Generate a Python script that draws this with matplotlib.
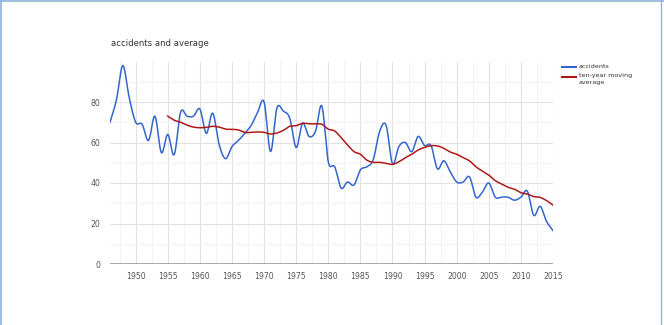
import numpy as np
import matplotlib
matplotlib.use("Agg")
import matplotlib.pyplot as plt
from matplotlib.lines import Line2D

years = list(range(1946, 2016))
accidents = [70, 81, 98, 82, 70, 69, 61, 73, 55, 64,
             54, 75, 73, 73, 76.5, 64.5, 74.5, 59, 52, 58,
             61, 64.5, 68.5, 75, 80, 55.5, 77, 75.5, 72, 57.5,
             69.5, 63, 65.5, 78, 50.5, 48, 37.5, 40.5, 39, 46.5,
             48, 51.5, 65.5, 68.5, 49.5, 58, 60, 55.5, 63, 58.5,
             58.5, 47, 51, 45.5, 40.5, 40.5, 43, 33, 35.5, 40,
             33, 33, 33, 31.5, 33, 36, 24, 28.5, 21, 16.5]
avg_years = list(range(1955, 2016))
moving_avg = [73, 71, 70, 68.6, 67.6, 67.3, 67.5, 68, 67.6, 66.6,
              66.5, 66.2, 65, 65, 65.2, 65, 64.2, 64.7, 66, 68,
              68.3, 69.5, 69.2, 69.2, 69, 66.6, 65.7, 62.4, 58.8, 55.5,
              54.2, 51.3, 50.2, 50.2, 49.7, 49.2, 50.5, 52.5, 54.2, 56.3,
              57.6, 58.4, 58.3, 57.1, 55.3, 54.2, 52.5, 50.9, 48, 45.9,
              43.9, 41.2, 39.5, 37.9, 36.9, 35.2, 34.6, 33.3, 32.9, 31.3, 29.1]

title = "accidents and average"
series_names = ["accidents", "ten-year moving\naverage"]
x_ticks = list(range(1950, 2016, 5))
y_ticks = [0, 20, 40, 60, 80]


def smooth(xs, ys, n=12):
    xs = np.asarray(xs, float)
    ys = np.asarray(ys, float)
    px = np.concatenate([[2 * xs[0] - xs[1]], xs, [2 * xs[-1] - xs[-2]]])
    py = np.concatenate([[2 * ys[0] - ys[1]], ys, [2 * ys[-1] - ys[-2]]])
    outx, outy = [], []
    t = np.linspace(0, 1, n, endpoint=False)
    for i in range(1, len(px) - 2):
        f = lambda a: 0.5 * ((2 * a[i]) + (-a[i - 1] + a[i + 1]) * t +
                             (2 * a[i - 1] - 5 * a[i] + 4 * a[i + 1] - a[i + 2]) * t ** 2 +
                             (-a[i - 1] + 3 * a[i] - 3 * a[i + 1] + a[i + 2]) * t ** 3)
        outx.extend(f(px))
        outy.extend(f(py))
    outx.append(xs[-1])
    outy.append(ys[-1])
    return np.array(outx), np.array(outy)


fig = plt.figure(figsize=(6.64, 3.25), dpi=100)
W, H = 664, 325
left, right, top, bottom = 110, 553, 61.5, 264
ax = fig.add_axes([left / W, 1 - bottom / H, (right - left) / W, (bottom - top) / H])

blue = "#3366cc"
red = "#b01818"

sx, sy = smooth(years, accidents)
ax.plot(sx, sy, color=blue, lw=1.1, zorder=3)
mx, my = smooth(avg_years, moving_avg)
ax.plot(mx, my, color=red, lw=1.1, zorder=3)

ax.set_xlim(1946, 2015)
ax.set_ylim(0, 100)
ax.set_xticks(x_ticks)
ax.set_xticks(np.arange(1947.5, 2015, 2.5), minor=True)
ax.set_yticks(y_ticks)
ax.set_yticks(np.arange(10, 100, 10), minor=True)
ax.grid(which="major", color="#e2e2e2", lw=0.8)
ax.grid(which="minor", color="#f3f3f3", lw=0.8)
ax.set_axisbelow(True)
for s in ax.spines.values():
    s.set_visible(False)
ax.axhline(0, color="#9a9a9a", lw=1.2, zorder=2)
ax.tick_params(which="both", length=0, labelsize=5.6, labelcolor="#555555")
ax.tick_params(axis="x", pad=6)
ax.tick_params(axis="y", pad=7)

fig.text(111 / W, 1 - 44 / H, title, fontsize=6.1, color="#333333", va="center", ha="left")

# legend
fig.add_artist(Line2D([561.5 / W, 576 / W], [1 - 66.5 / H] * 2, color=blue, lw=1.5))
fig.text(579 / W, 1 - 66.5 / H, series_names[0], fontsize=4.6, color="#333333", va="center")
fig.add_artist(Line2D([561.5 / W, 576 / W], [1 - 77.3 / H] * 2, color=red, lw=1.5))
fig.text(579 / W, 1 - 72.5 / H, series_names[1], fontsize=4.6, color="#333333", va="top",
         linespacing=1.55)

# border frame
fig.add_artist(Line2D([0.5 / W, 0.5 / W], [0, 1], color="#8fb3d9", lw=1.2))
fig.add_artist(Line2D([0, 1], [1 - 0.5 / H] * 2, color="#8fb3d9", lw=1.2))
fig.add_artist(Line2D([660.5 / W, 660.5 / W], [0, 1], color="#8fb3d9", lw=1.0))

fig.savefig("out.png", dpi=100)
